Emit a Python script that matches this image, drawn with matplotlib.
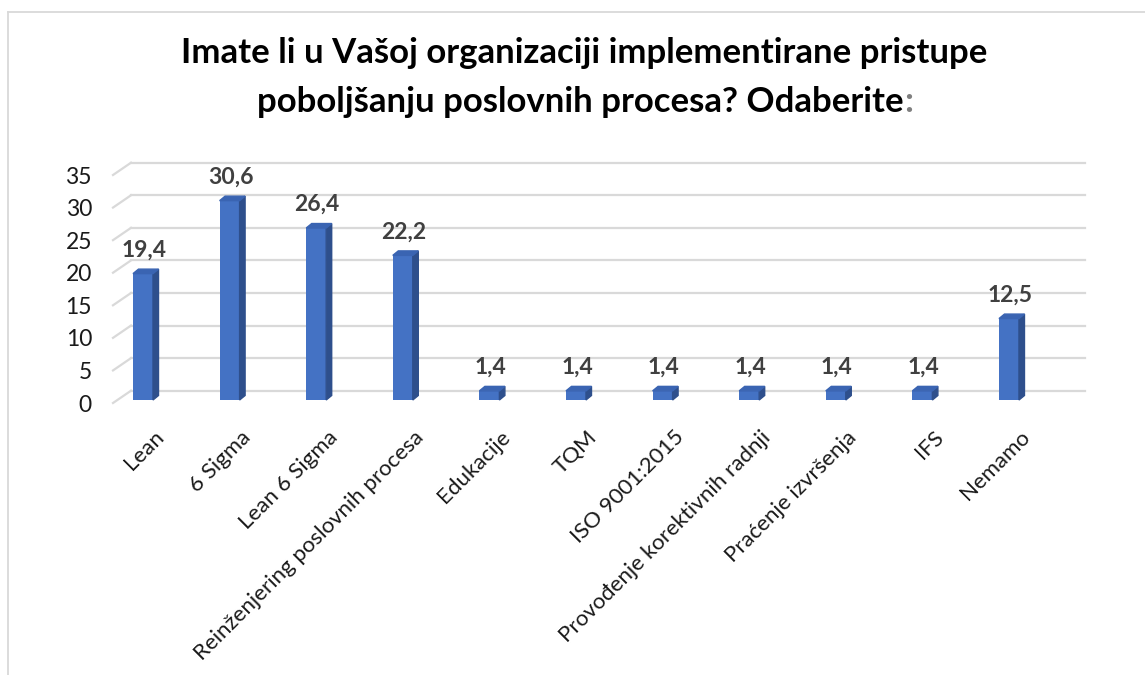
import numpy as np
import matplotlib.pyplot as plt
from matplotlib.patches import Polygon
from matplotlib.lines import Line2D

# Data
categories = ['Lean', '6 Sigma', 'Lean 6 Sigma', 'Reinženjering poslovnih procesa',
              'Edukacije', 'TQM', 'ISO 9001:2015', 'Provođenje korektivnih radnji',
              'Praćenje izvršenja', 'IFS', 'Nemamo']
values = [19.4, 30.6, 26.4, 22.2, 1.4, 1.4, 1.4, 1.4, 1.4, 1.4, 12.5]
yticks = [0, 5, 10, 15, 20, 25, 30, 35]
title_line1 = 'Imate li u Vašoj organizaciji implementirane pristupe'
title_line2 = 'poboljšanju poslovnih procesa? Odaberite'

plt.rcParams['font.family'] = ['Lato', 'DejaVu Sans']

W, H = 1145, 675
fig = plt.figure(figsize=(W / 100, H / 100), dpi=100)

# axes box = floor plane of the bars (pixels)
left, right, bottom, top = 117.5, 1071.5, 400, 172
ax = fig.add_axes([left / W, 1 - bottom / H, (right - left) / W, (bottom - top) / H])
ax.set_xlim(-0.2945, 10.722)
ax.set_ylim(0, 35)
ax.axis('off')

x0, x1 = ax.get_xlim()
kx = (x1 - x0) / (right - left)   # data units per pixel
ky = 35 / (bottom - top)

# 3D-ish gridlines: back wall line + diagonal on the side
grid_c = '#D9D9D9'
for v in yticks:
    ax.plot([x0 + 13.5 * kx, x1 + 13.5 * kx], [v + 9.3 * ky, v + 9.3 * ky],
            color=grid_c, lw=1.6, clip_on=False, zorder=1)
    ax.plot([x0 - 4.5 * kx, x0 + 13.5 * kx], [v - 3 * ky, v + 9.3 * ky],
            color=grid_c, lw=1.6, clip_on=False, zorder=1)
    ax.annotate(str(v), (x0 - 4.5 * kx, v - 3 * ky), xytext=(-21, 0),
                textcoords='offset pixels', ha='right', va='center_baseline',
                fontsize=16.5, color='#1a1a1a', annotation_clip=False)

# bars with side and top faces
x = np.arange(len(categories))
bw = 20 * kx
dx, dy = 5.5 * kx, 4.5 * ky
front_c, side_c, top_c = '#4472C4', '#2E4F8C', '#3A64B2'
ax.bar(x, values, width=bw, color=front_c, zorder=3)
for xi, v in zip(x, values):
    r = xi + bw / 2
    ax.add_patch(Polygon([(r, 0), (r + dx, dy), (r + dx, v + dy), (r, v)],
                         closed=True, color=side_c, zorder=3, clip_on=False))
    ax.add_patch(Polygon([(xi - bw / 2, v), (r, v), (r + dx, v + dy), (xi - bw / 2 + dx, v + dy)],
                         closed=True, color=top_c, zorder=3, clip_on=False))
    ax.annotate(f'{v:.1f}'.replace('.', ','), (xi, v), xytext=(1, 17),
                textcoords='offset pixels', ha='center', va='baseline',
                fontsize=16.5, fontweight='bold', color='#404040', annotation_clip=False)

# category labels
for xi, name in zip(x, categories):
    ax.annotate(name, (xi, 0), xytext=(11, -27), textcoords='offset pixels',
                ha='right', va='top', rotation=45, rotation_mode='anchor',
                fontsize=16, color='#1a1a1a', annotation_clip=False)

# title (colon in grey as in original)
fig.text(584 / W, 1 - 63 / H, title_line1, ha='center', va='baseline',
         fontsize=25, fontweight='bold', color='black')
t2 = fig.text(580 / W, 1 - 112 / H, title_line2, ha='center', va='baseline',
              fontsize=25, fontweight='bold', color='black')
plt.annotate(':', xy=(1, 0), xycoords=t2, xytext=(1, 0), textcoords='offset pixels',
             ha='left', va='bottom', fontsize=25, fontweight='bold', color='#7F7F7F')

# chart frame (top and left edges visible)
fig.add_artist(Line2D([8 / W, 1], [1 - 11.5 / H, 1 - 11.5 / H], color='#D9D9D9', lw=1.3))
fig.add_artist(Line2D([8 / W, 8 / W], [0, 1 - 11.5 / H], color='#D9D9D9', lw=1.3))

fig.savefig('out.png', dpi=100)
